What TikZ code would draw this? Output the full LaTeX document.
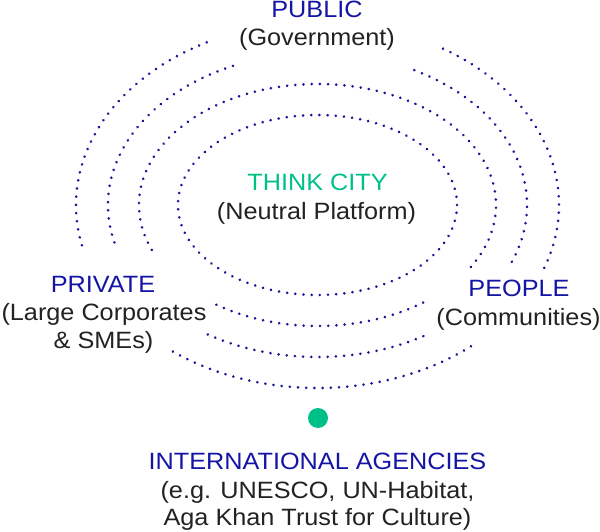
\documentclass[tikz,border=0pt]{standalone}
\usepackage{fontspec}
\setmainfont{Liberation Sans}[FakeStretch=1.07]
\usetikzlibrary{decorations.markings}
\definecolor{ringblue}{RGB}{22,22,150}
\definecolor{labblue}{RGB}{20,20,165}
\definecolor{tcgreen}{RGB}{0,192,138}
\definecolor{txtdark}{RGB}{34,34,34}
\tikzset{
  dotring/.style={decoration={markings, mark=between positions 0 and 1 step 8.2pt with {\fill[ringblue] (0,0) circle[radius=1.45pt];}}, decorate},
  lab/.style={inner sep=0pt, anchor=base, font=\fontsize{23.6}{28}\selectfont},
  headblue/.style={lab, text=labblue},
  headgreen/.style={lab, text=tcgreen},
  sub/.style={lab, text=txtdark}
}
\begin{document}
\begin{tikzpicture}
\useasboundingbox (0pt,0pt) rectangle (600pt,531pt);
\coordinate (c) at (317.5pt,326pt);
% ring 1 (closed)
\path[dotring] ([shift={(0:139.5pt and 90pt)}]c) arc[start angle=0, end angle=360, x radius=139.5pt, y radius=90pt];
% ring 2
\path[dotring] ([shift={(-30.8:178.5pt and 121pt)}]c) arc[start angle=-30.8, end angle=203.4, x radius=178.5pt, y radius=121pt];
\path[dotring] ([shift={(235.5:178.5pt and 121pt)}]c) arc[start angle=235.5, end angle=307, x radius=178.5pt, y radius=121pt];
% ring 3
\path[dotring] ([shift={(-21.9:209.5pt and 152pt)}]c) arc[start angle=-21.9, end angle=64.4, x radius=209.5pt, y radius=152pt];
\path[dotring] ([shift={(113.8:209.5pt and 152pt)}]c) arc[start angle=113.8, end angle=196, x radius=209.5pt, y radius=152pt];
\path[dotring] ([shift={(238.4:209.5pt and 152pt)}]c) arc[start angle=238.4, end angle=300.6, x radius=209.5pt, y radius=152pt];
% ring 4
\path[dotring] ([shift={(-20.1:241.5pt and 183pt)}]c) arc[start angle=-20.1, end angle=59.6, x radius=241.5pt, y radius=183pt];
\path[dotring] ([shift={(117.3:241.5pt and 183pt)}]c) arc[start angle=117.3, end angle=193.3, x radius=241.5pt, y radius=183pt];
\path[dotring] ([shift={(233.2:241.5pt and 183pt)}]c) arc[start angle=233.2, end angle=311.2, x radius=241.5pt, y radius=183pt];
% labels
\node[headblue] (pub) at (317pt,513pt) {PUBLIC};
\node[sub] (gov) at (317pt,485pt) {(Government)};
\node[headgreen] (tc) at (317.5pt,340pt) {THINK CITY};
\node[sub] (np) at (316.5pt,311pt) {(Neutral Platform)};
\node[headblue] (priv) at (103pt,239pt) {PRIVATE};
\node[sub] (lc) at (104pt,211pt) {(Large Corporates};
\node[sub] (sme) at (103.5pt,183pt) {\& SMEs)};
\node[headblue] (ppl) at (519pt,235pt) {PEOPLE};
\node[sub] (com) at (518.5pt,206pt) {(Communities)};
\fill[tcgreen] (318pt,113pt) circle[radius=10pt];
\node[headblue] (ia) at (317.5pt,62pt) {INTERNATIONAL AGENCIES};
\node[sub] (eg) at (317.5pt,33pt) {(e.g. UNESCO, UN-Habitat,};
\node[sub] (aga) at (317.5pt,6pt) {Aga Khan Trust for Culture)};
\end{tikzpicture}
\end{document}
